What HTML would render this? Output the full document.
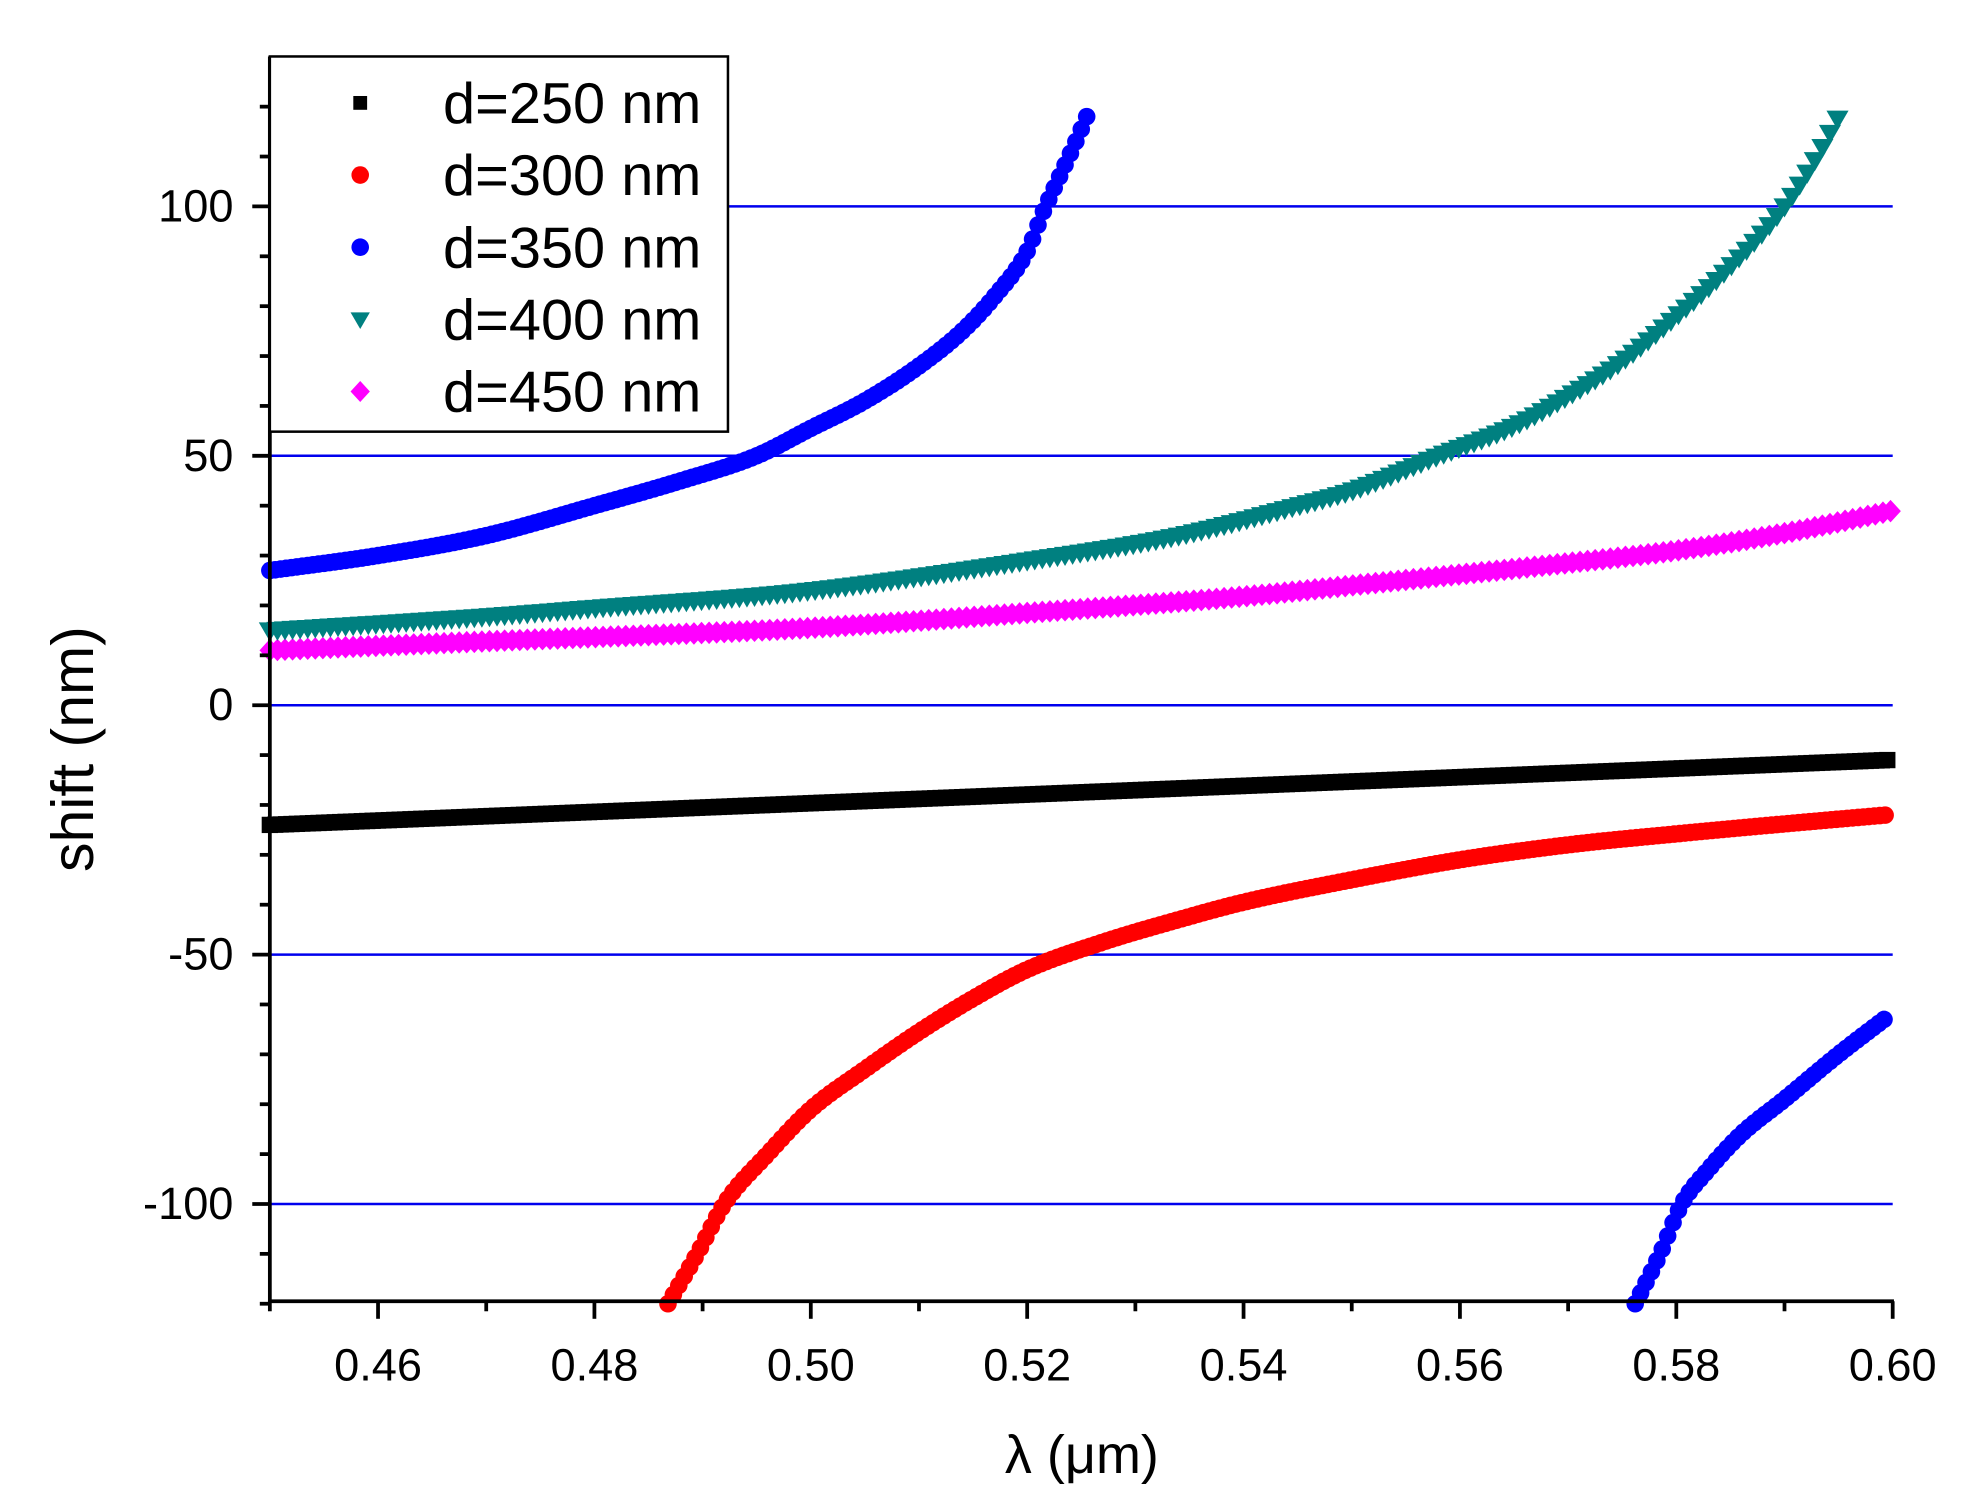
<!DOCTYPE html>
<html><head><meta charset="utf-8"><style>
html,body{margin:0;padding:0;background:#fff;}
svg{display:block;}
text{font-family:"Liberation Sans",Arial,sans-serif;}
</style></head><body>
<svg id="s" width="1968" height="1502" viewBox="0 0 1568 1197" preserveAspectRatio="none" xmlns="http://www.w3.org/2000/svg">
<rect width="1568" height="1197" fill="#fff"/>
<g id="grid" stroke="#0000ee" stroke-width="2"></g>
<g id="data"></g>
<g id="axes" stroke="#000" stroke-width="3"></g>
<g id="labels" font-size="36" fill="#000"></g>
<rect x="215" y="45" width="365" height="299" fill="#fff" stroke="#000" stroke-width="2"/>
<g id="legend"></g>
<text x="862" y="1174" font-size="43" text-anchor="middle">λ (μm)</text>
<text transform="translate(74,597) rotate(-90)" font-size="47" text-anchor="middle">shift (nm)</text>
</svg>
<script>
const NS="http://www.w3.org/2000/svg";
function el(p,t,a,txt){const e=document.createElementNS(NS,t);for(const k in a)e.setAttribute(k,a[k]);if(txt!==undefined)e.textContent=txt;p.appendChild(e);return e;}
const X=x=>215+(x-0.45)/0.15*1293;
const Y=y=>562-y*3.975;
const grid=document.getElementById('grid'),axes=document.getElementById('axes'),lab=document.getElementById('labels'),data=document.getElementById('data'),leg=document.getElementById('legend');
[100,50,0,-50,-100].forEach(v=>el(grid,'line',{x1:215,x2:1508,y1:Y(v),y2:Y(v)}));
el(axes,'line',{x1:215,x2:215,y1:45,y2:1038});
el(axes,'line',{x1:214,x2:1509,y1:1037,y2:1037});
for(let v=-120;v<=120;v+=10){const maj=v%50===0;el(axes,'line',{x1:215,x2:maj?201:207,y1:Y(v),y2:Y(v)});
 if(maj)el(lab,'text',{x:186,y:Y(v)+12,'text-anchor':'end'},String(v));}
for(let i=0;i<=15;i++){const x=0.45+i*0.01,maj=i%2===1||i===15;const px=X(x);
 el(axes,'line',{x1:px,x2:px,y1:1037,y2:maj?1051:1045});
 if(i%2===1||i===15)el(lab,'text',{x:px,y:1100,'text-anchor':'middle'},x.toFixed(2));}
function interp(tab,x){const n=tab.length;for(let i=0;i<n-1;i++){if(x>=tab[i][0]&&x<=tab[i+1][0]){
 const x0=tab[i][0],x1=tab[i+1][0],y0=tab[i][1],y1=tab[i+1][1];const h=x1-x0,t=(x-x0)/h;
 const sl=(a,b)=>(tab[b][1]-tab[a][1])/(tab[b][0]-tab[a][0]);
 const m0=i>0?(sl(i-1,i)+sl(i,i+1))/2:sl(i,i+1);const m1=i<n-2?(sl(i,i+1)+sl(i+1,i+2))/2:sl(i,i+1);
 const t2=t*t,t3=t2*t;return (2*t3-3*t2+1)*y0+(t3-2*t2+t)*h*m0+(-2*t3+3*t2)*y1+(t3-t2)*h*m1;}}return null;}
function marker(g,type,color,px,py,s){
 if(type==='sq')el(g,'rect',{x:px-s,y:py-s,width:2*s,height:2*s,fill:color});
 else if(type==='c')el(g,'circle',{cx:px,cy:py,r:s,fill:color});
 else if(type==='t')el(g,'polygon',{points:`${px-s*1.1},${py-s*0.8} ${px+s*1.1},${py-s*0.8} ${px},${py+s*1.1}`,fill:color});
 else if(type==='d')el(g,'polygon',{points:`${px},${py-s*1.2} ${px+s*1.1},${py} ${px},${py+s*1.2} ${px-s*1.1},${py}`,fill:color});}
function series(tab,type,color,s,step){const g=el(data,'g',{});const x0=tab[0][0],x1=tab[tab.length-1][0];
 for(let x=x0;x<=x1+1e-9;x+=step){const y=interp(tab,Math.min(x,x1));if(y===null)continue;if(y<-121||y>121)continue;marker(g,type,color,X(Math.min(x,x1)),Y(y),s);}}
const magenta=[[0.45,11],[0.47,12.8],[0.50,15.5],[0.52,18.5],[0.54,21.8],[0.55,24],[0.57,28.5],[0.58,31],[0.59,34.5],[0.60,39]];
const teal=[[0.45,15],[0.47,17.8],[0.48,19.5],[0.50,23],[0.52,29],[0.534,34],[0.545,40],[0.55,43],[0.558,50],[0.565,56],[0.57,62],[0.575,69],[0.58,78],[0.585,88],[0.59,100],[0.593,110],[0.595,118]];
const black=[[0.45,-24],[0.5995,-11]];
const red=[[0.4868,-120],[0.4895,-110],[0.492,-100],[0.496,-90],[0.50,-81],[0.505,-73],[0.51,-65.5],[0.515,-58.8],[0.52,-53],[0.527,-47.5],[0.534,-43],[0.54,-39.5],[0.55,-35],[0.56,-31],[0.57,-28],[0.58,-25.8],[0.59,-23.8],[0.5995,-22]];
const blue1=[[0.45,27],[0.46,30],[0.47,34],[0.48,40],[0.488,45],[0.495,50],[0.50,55.5],[0.505,61],[0.51,68],[0.514,75],[0.517,82],[0.52,91],[0.5215,99],[0.523,106],[0.5245,113],[0.5255,118]];
const blue2=[[0.5762,-120],[0.5785,-110],[0.5805,-100],[0.583,-93],[0.586,-86],[0.59,-79],[0.595,-70],[0.5995,-62.5]];
series(magenta,'d','#ff00ff',7.5,0.0007);
series(teal,'t','#008080',8,0.0007);
series(black,'sq','#000',6.5,0.0005);
series(red,'c','#ff0000',7,0.0005);
series(blue1,'c','#0000ff',7,0.0005);
series(blue2,'c','#0000ff',7,0.0005);
const L=[['sq','#000','d=250 nm'],['c','#ff0000','d=300 nm'],['c','#0000ff','d=350 nm'],['t','#008080','d=400 nm'],['d','#ff00ff','d=450 nm']];
L.forEach((l,i)=>{const y=82+i*57.5;marker(leg,l[0],l[1],287,y,l[0]==='sq'?5.5:7);el(leg,'text',{x:353,y:y+16,'font-size':46},l[2]);});
</script>
</body></html>
